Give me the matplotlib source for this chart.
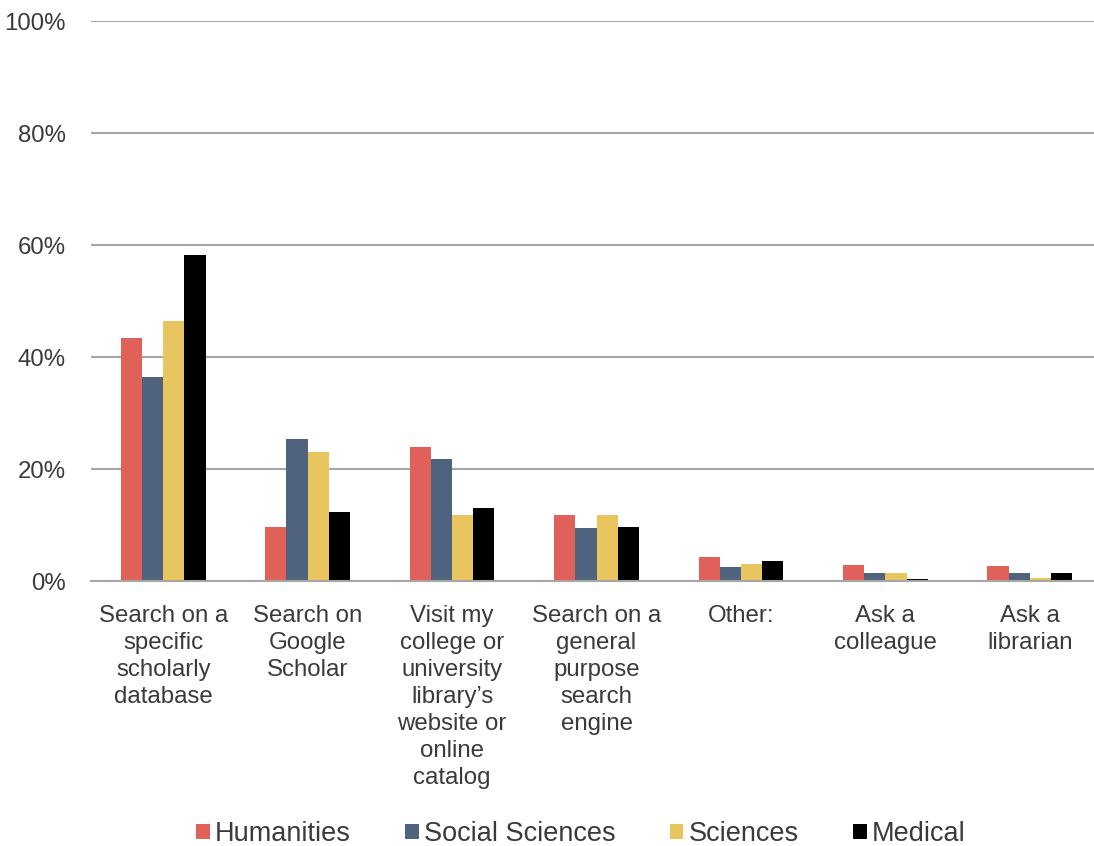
import matplotlib.pyplot as plt
import numpy as np
from matplotlib.patches import Patch

plt.rcParams['font.family'] = ['Liberation Sans', 'DejaVu Sans']

categories = [
    "Search on a\nspecific\nscholarly\ndatabase",
    "Search on\nGoogle\nScholar",
    "Visit my\ncollege or\nuniversity\nlibrary\u2019s\nwebsite or\nonline\ncatalog",
    "Search on a\ngeneral\npurpose\nsearch\nengine",
    "Other:",
    "Ask a\ncolleague",
    "Ask a\nlibrarian",
]
series_names = ["Humanities", "Social Sciences", "Sciences", "Medical"]
humanities = [43.4, 9.7, 23.9, 11.7, 4.3, 2.8, 2.6]
social_sciences = [36.4, 25.3, 21.7, 9.4, 2.5, 1.5, 1.5]
sciences = [46.5, 23.1, 11.8, 11.7, 3.1, 1.5, 0.5]
medical = [58.3, 12.3, 13.1, 9.6, 3.5, 0.3, 1.4]
colors = ["#E0605A", "#4F637E", "#E8C55E", "#000000"]
yticks = [0, 20, 40, 60, 80, 100]

text_color = "#3a3a3a"
grid_color = "#a6a6a6"

fig = plt.figure(figsize=(10.94, 8.46), dpi=100)
ax = fig.add_axes([91 / 1094, 265 / 846, 1011 / 1094, 560 / 846])

x = np.arange(len(categories))
w = 0.1465
all_series = [humanities, social_sciences, sciences, medical]
for i, (vals, c) in enumerate(zip(all_series, colors)):
    ax.bar(x + (i - 1.5) * w, vals, width=w, color=c, zorder=3)

ax.set_xlim(-0.5, len(categories) - 0.5)
ax.set_ylim(0, 100)
ax.set_yticks(yticks)
ax.set_yticklabels([f"{v}%" for v in yticks])
ax.yaxis.grid(True, color=grid_color, linewidth=1.5, zorder=0)
for s in ["top", "right", "left"]:
    ax.spines[s].set_visible(False)
ax.spines["bottom"].set_color(grid_color)
ax.spines["bottom"].set_linewidth(1.5)
ax.spines["bottom"].set_zorder(4)

ax.set_xticks(x)
ax.set_xticklabels(categories, linespacing=1.3)
ax.tick_params(axis="both", length=0, labelsize=17.3, colors=text_color)
ax.tick_params(axis="y", pad=18)
ax.tick_params(axis="x", pad=17)
for lbl in ax.get_xticklabels():
    lbl.set_horizontalalignment("center")
    lbl.set_verticalalignment("top")

handles = [Patch(facecolor=c, label=n) for c, n in zip(colors, series_names)]
fig.legend(handles=handles, loc="center", bbox_to_anchor=(0.531, 12 / 846),
           ncol=4, frameon=False, fontsize=19.5, handlelength=0.5, handleheight=0.5,
           handletextpad=0.2, columnspacing=2.0, labelcolor=text_color,
           bbox_transform=fig.transFigure)

fig.savefig("out.png", dpi=100)
